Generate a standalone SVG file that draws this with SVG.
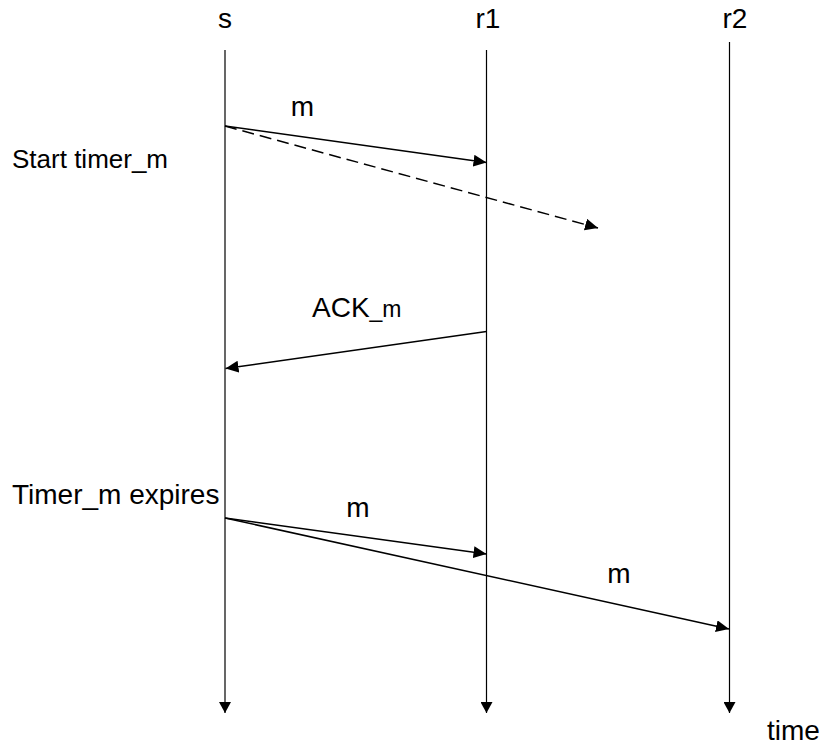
<svg xmlns="http://www.w3.org/2000/svg" width="822" height="746" viewBox="0 0 822 746">
<style>
text{font-family:"Liberation Sans",Arial,sans-serif;fill:#000;}
.lbl{font-size:28px;}
.life{stroke:#000;stroke-width:1.2;fill:none;}
.msg{stroke:#000;stroke-width:1.5;fill:none;}
.dash{stroke-dasharray:12,6;}
</style>
<defs>
<marker id="ah" markerUnits="userSpaceOnUse" markerWidth="14" markerHeight="12" refX="13" refY="6" orient="auto" viewBox="0 0 14 12">
<path d="M0,0 L13,6 L0,12 z" fill="#000"/>
</marker>
<marker id="ahv" markerUnits="userSpaceOnUse" markerWidth="12" markerHeight="12" refX="11" refY="6" orient="auto" viewBox="0 0 12 12">
<path d="M0,0 L11,6 L0,12 z" fill="#000"/>
</marker>
</defs>
<g id="node-s">
<text class="lbl" x="225" y="28" text-anchor="middle">s</text>
</g>
<g id="node-r1">
<text class="lbl" x="488" y="28" text-anchor="middle">r1</text>
</g>
<g id="node-r2">
<text class="lbl" x="735" y="28" text-anchor="middle">r2</text>
</g>
<g id="node-start-timer">
<text x="12" y="168" style="font-size:26px">Start timer_m</text>
</g>
<g id="node-timer-expires">
<text class="lbl" x="12" y="504">Timer_m expires</text>
</g>
<g id="node-time">
<text class="lbl" x="767" y="740">time</text>
</g>
<g id="connectors">
<line class="life" x1="225" y1="50" x2="225" y2="713" marker-end="url(#ahv)"/>
<line class="life" x1="486.5" y1="50" x2="486.5" y2="713" marker-end="url(#ahv)"/>
<line class="life" x1="729.5" y1="42" x2="729.5" y2="713" marker-end="url(#ahv)"/>
<line class="msg" x1="225" y1="126" x2="486.5" y2="162.5" marker-end="url(#ah)"/>
<line class="msg dash" x1="225" y1="126" x2="598" y2="228" marker-end="url(#ah)"/>
<line class="msg" x1="486.5" y1="331.5" x2="225.5" y2="368.5" marker-end="url(#ah)"/>
<line class="msg" x1="225" y1="518" x2="486.5" y2="554" marker-end="url(#ah)"/>
<line class="msg" x1="225" y1="518" x2="729" y2="629" marker-end="url(#ah)"/>
<text class="lbl" x="302.5" y="116" text-anchor="middle">m</text>
<text class="lbl" x="312" y="317">ACK<tspan style="font-size:23px">_m</tspan></text>
<text class="lbl" x="358" y="517" text-anchor="middle">m</text>
<text class="lbl" x="619" y="583" text-anchor="middle">m</text>
</g>
</svg>
